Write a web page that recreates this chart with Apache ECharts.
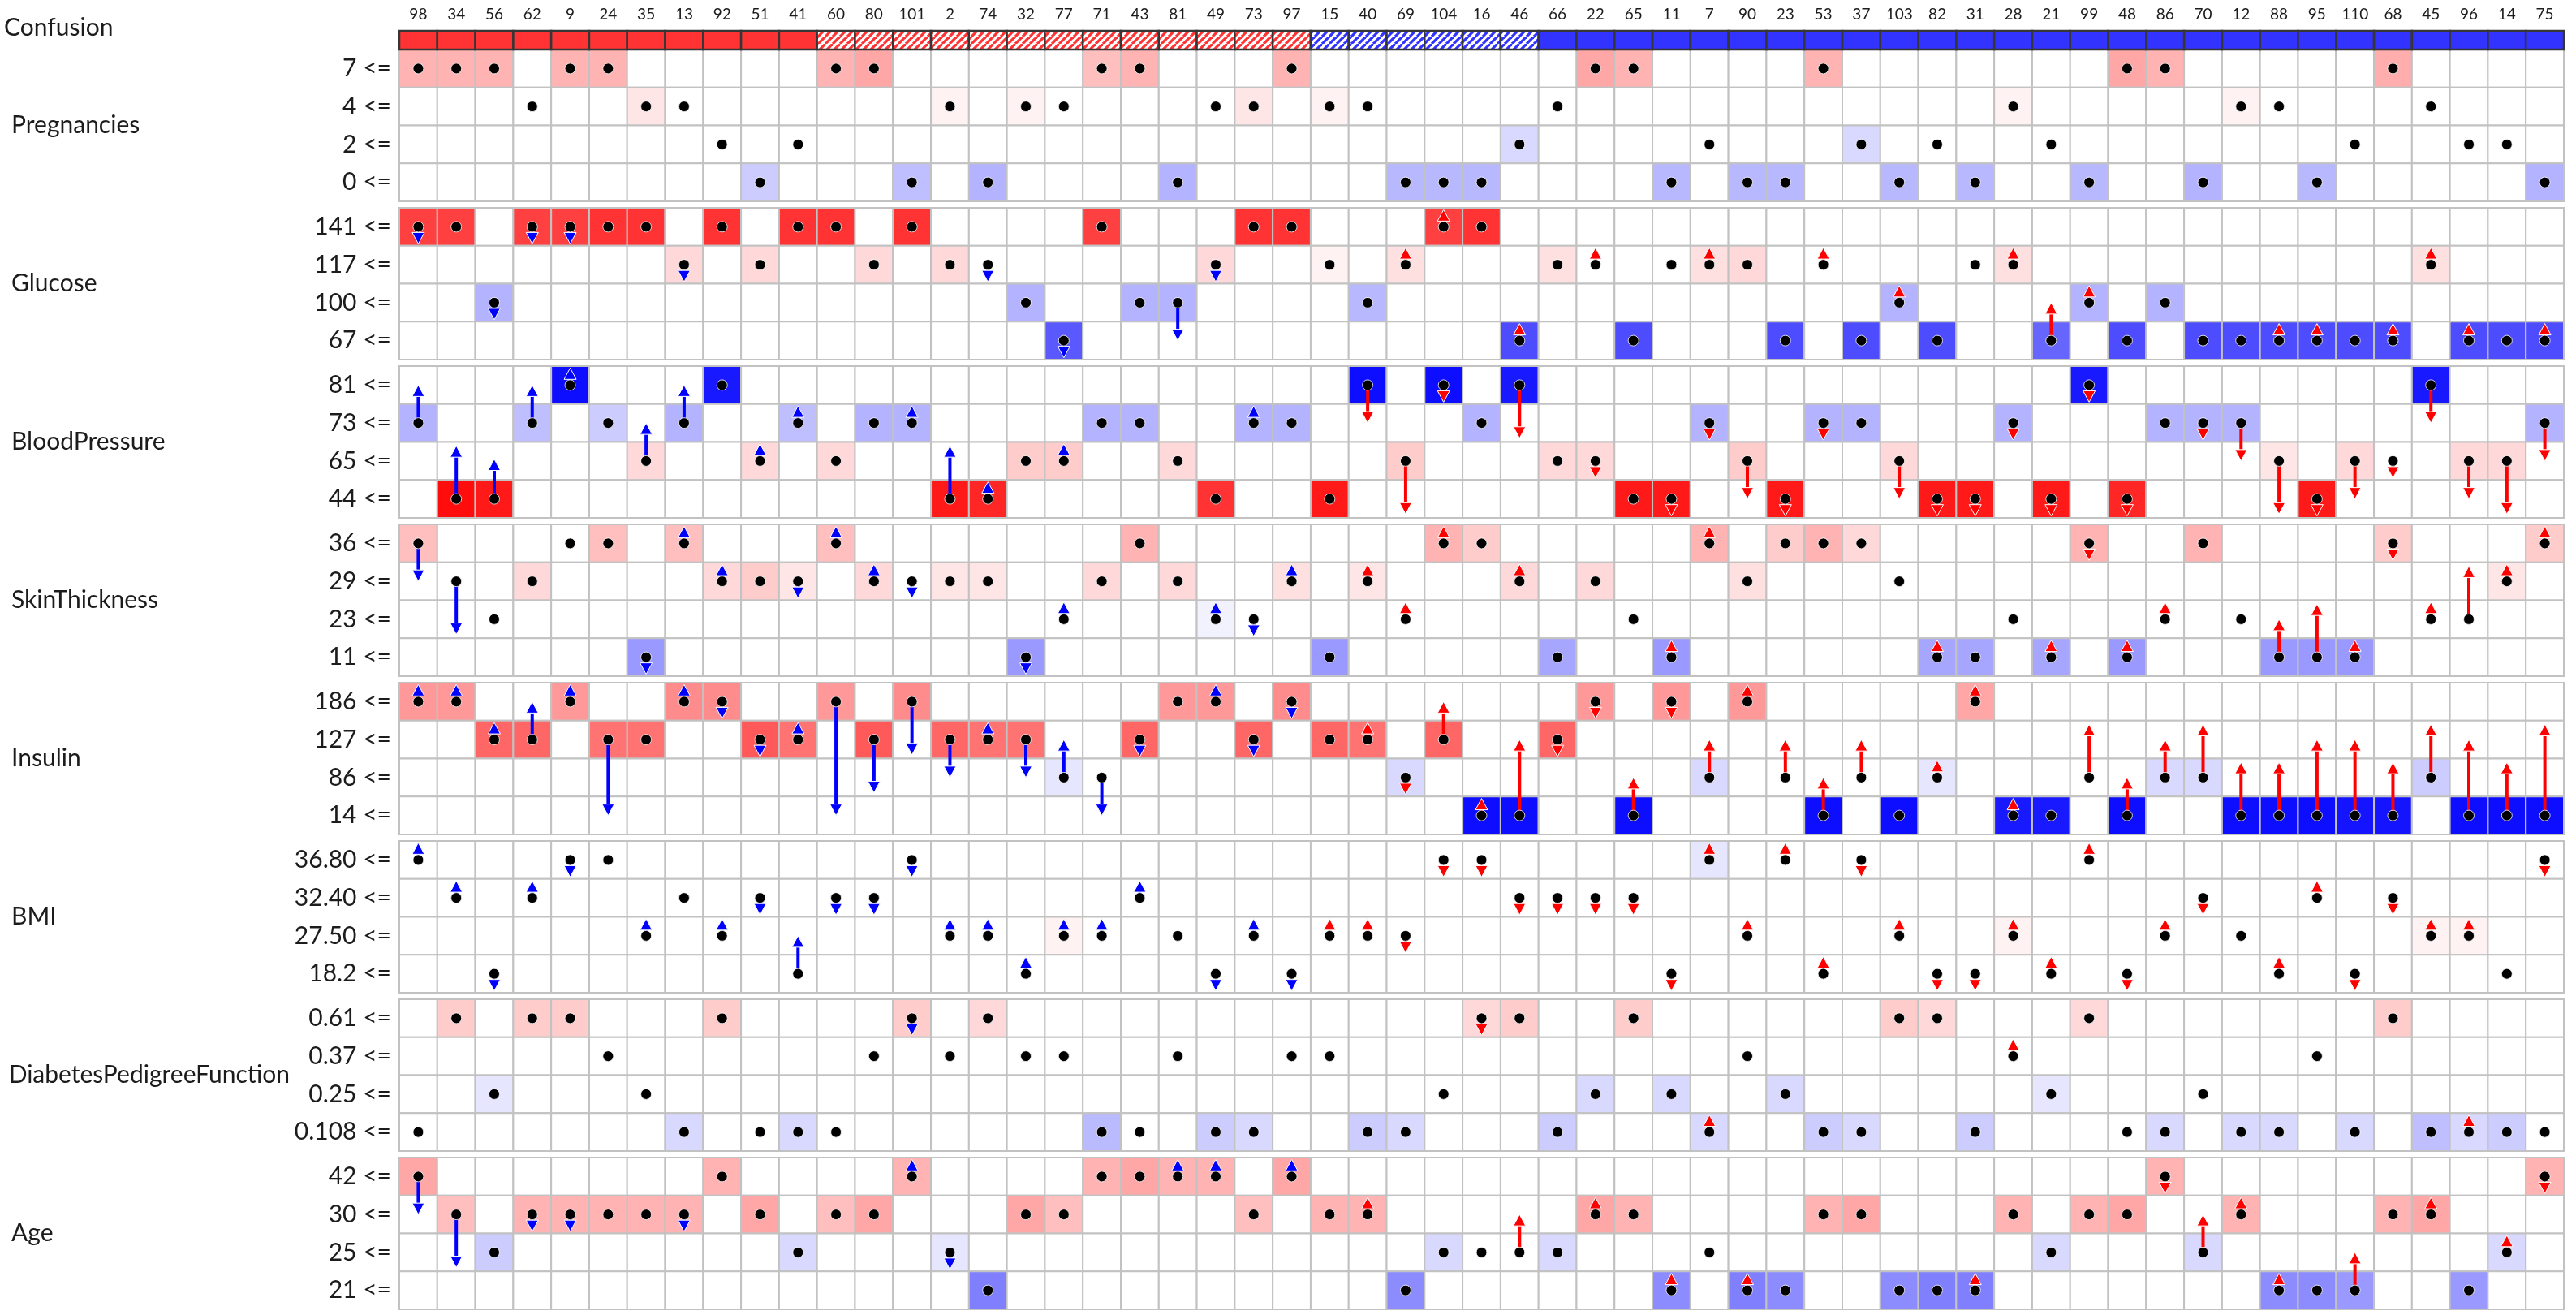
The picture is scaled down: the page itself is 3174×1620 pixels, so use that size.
<!DOCTYPE html>
<html><head><meta charset="utf-8">
<script src="https://cdn.jsdelivr.net/npm/echarts@6/dist/echarts.min.js"></script>
<style>html,body{margin:0;padding:0;background:#fff}#chart{width:3174px;height:1620px}</style>
</head><body><div id="chart"></div>
<script>
// ---------- DATA ----------
const columns = ['98','34','56','62','9','24','35','13','92','51','41','60','80','101','2','74','32','77','71','43','81','49','73','97','15','40','69','104','16','46','66','22','65','11','7','90','23','53','37','103','82','31','28','21','99','48','86','70','12','88','95','110','68','45','96','14','75'];
// 2 = red, 1 = red hatched, -1 = blue hatched, -2 = blue
const confusion = [2,2,2,2,2,2,2,2,2,2,2, 1,1,1,1,1,1,1,1,1,1,1,1,1, -1,-1,-1,-1,-1,-1, -2,-2,-2,-2,-2,-2,-2,-2,-2,-2,-2,-2,-2,-2,-2,-2,-2,-2,-2,-2,-2,-2,-2,-2,-2,-2,-2];

const pregnanciesLabels = ['7 <=','4 <=','2 <=','0 <='];
const pregnanciesBin = [0,0,0,1,0,0,1,1,2,3, 2,0,0,3,1,3,1,1,0,0, 3,1,1,0,1,1,3,3,3,2, 1,0,0,3,2,3,3,0,2,3, 2,3,1,2,3,0,0,3,1,1, 3,2,0,1,2,2,3];
const pregnanciesShade = [30,30,30,0,30,30,10,0,0,-20, 0,30,35,-25,5,-30,5,0,25,30, -30,0,10,30,5,0,-28,-28,-28,-15, 0,35,30,-28,0,-28,-28,30,-15,-28, 0,-28,5,0,-28,35,30,-30,5,0, -28,0,32,0,0,0,-30];
const pregnanciesShift = [0,0,0,0,0,0,0,0,0,0, 0,0,0,0,0,0,0,0,0,0, 0,0,0,0,0,0,0,0,0,0, 0,0,0,0,0,0,0,0,0,0, 0,0,0,0,0,0,0,0,0,0, 0,0,0,0,0,0,0];

const glucoseLabels = ['141 <=','117 <=','100 <=','67 <='];
const glucoseBin = [0,0,2,0,0,0,0,1,0,1, 0,0,1,0,1,1,2,3,0,2, 2,1,0,0,1,2,1,0,0,3, 1,1,3,1,1,1,3,1,3,2, 3,1,1,3,2,3,2,3,3,3, 3,3,3,1,3,3,3];
const glucoseShade = [75,75,-30,75,75,80,80,15,80,15, 80,80,15,80,15,0,-30,-65,75,-30, -30,15,80,80,5,-28,12,75,80,-70, 12,0,-70,0,12,15,-70,0,-70,-30, -70,0,12,-60,-30,-70,-30,-70,-70,-70, -70,-70,-70,12,-70,-70,-70];
const glucoseShift = [-.45,0,-.45,-.45,-.45,0,0,-.45,0,0, 0,0,0,0,0,-.45,0,-.45,0,0, -1,-.45,0,0,0,0,.45,.45,0,.45, 0,.45,0,0,.45,0,0,.45,0,.45, 0,0,.45,1,.45,0,0,0,0,.45, .45,0,.45,.45,.45,0,.45];

const bloodPressureLabels = ['81 <=','73 <=','65 <=','44 <='];
const bloodPressureBin = [1,3,3,1,0,1,2,1,0,2, 1,2,1,1,3,3,2,2,1,1, 2,3,1,1,3,0,2,0,1,0, 2,2,3,3,1,2,3,1,1,2, 3,3,1,3,0,3,1,1,1,2, 3,2,2,0,2,2,1];
const bloodPressureShade = [-30,95,90,-25,-95,-20,15,-30,-90,15, -25,15,-30,-30,90,85,20,20,-30,-30, 15,80,-30,-30,90,-95,20,-95,-30,-90, 15,15,90,90,-30,20,90,-30,-30,15, 90,90,-30,90,-90,85,-30,-30,-30,10, 90,15,0,-90,15,15,-30];
const bloodPressureShift = [1,1.4,1.05,1,.45,0,1,1,0,.45, .45,0,0,.45,1.4,.45,0,.45,0,0, 0,0,.45,0,0,-1,-1.4,-.45,0,-1.4, 0,-.45,0,-.45,-.45,-1,-.45,-.45,0,-1, -.45,-.45,-.45,-.45,-.45,-.45,0,-.45,-1,-1.4, -.45,-1,-.45,-1,-1,-1.4,-1];

const skinThicknessLabels = ['36 <=','29 <=','23 <=','11 <='];
const skinThicknessBin = [0,1,2,1,0,0,3,0,1,1, 1,0,1,1,1,1,3,2,1,0, 1,2,2,1,3,1,2,0,0,1, 3,1,2,3,0,1,0,0,0,1, 3,3,2,3,0,3,2,0,2,3, 3,3,0,2,2,1,0];
const skinThicknessShade = [25,0,0,15,0,25,-40,25,15,20, 10,25,15,0,10,10,-40,0,15,30, 15,-5,0,12,-40,10,0,30,20,15, -35,15,0,-40,30,12,20,30,15,0, -35,-35,0,-35,30,-40,0,30,0,-40, -40,-40,20,0,0,10,20];
const skinThicknessShift = [-1,-1.4,0,0,0,0,-.45,.45,.45,0, -.45,.45,.45,-.45,0,0,-.45,.45,0,0, 0,.45,-.45,.45,0,.45,.45,.45,0,.45, 0,0,0,.45,.45,0,0,0,0,0, .45,0,0,.45,-.45,.45,.45,0,0,1, 1.4,.45,-.45,.45,1.4,.45,.45];

const insulinLabels = ['186 <=','127 <=','86 <=','14 <='];
const insulinBin = [0,0,1,1,0,1,1,0,0,1, 1,0,1,0,1,1,1,2,2,1, 0,0,1,0,1,1,2,1,3,3, 1,0,3,0,2,0,2,3,2,3, 2,0,3,3,2,3,2,2,3,3, 3,3,3,2,3,3,3];
const insulinShade = [40,40,60,60,40,55,55,45,45,65, 55,40,65,45,60,55,55,-10,0,60, 40,40,60,45,60,55,-15,60,-95,-95, 60,40,-95,40,-15,40,0,-95,0,-95, -10,35,-90,-90,0,-95,-15,-15,-95,-95, -95,-92,-92,-20,-95,-95,-95];
const insulinShift = [.45,.45,.45,1,.45,-2,0,.45,-.45,-.45, .45,-3,-1.4,-1.4,-1,.45,-1,1,-1,-.45, 0,.45,-.45,-.45,0,.45,-.45,1,.45,2, -.45,-.45,1,-.45,1,.45,1,1,1,0, .45,.45,.45,0,1.4,1,1,1.4,1.4,1.4, 2,2,1.4,1.4,2,1.4,2.4];

const bmiLabels = ['36.80 <=','32.40 <=','27.50 <=','18.2 <='];
const bmiBin = [0,1,3,1,0,0,2,1,2,1, 3,1,1,0,2,2,3,2,2,1, 2,3,2,3,2,2,2,0,0,1, 1,1,1,3,0,2,0,3,0,2, 3,3,2,3,0,3,2,1,2,3, 1,3,1,2,2,3,0];
const bmiShade = [0,0,0,0,0,0,0,0,0,0, 0,0,0,0,0,0,0,5,0,0, 0,0,0,0,0,0,0,0,0,0, 0,0,0,0,-10,0,0,0,0,0, 0,0,5,0,0,0,0,0,0,0, 0,0,0,5,5,0,0];
const bmiShift = [.45,.45,-.45,.45,-.45,0,.45,0,.45,-.45, 1,-.45,-.45,-.45,.45,.45,.45,.45,.45,.45, 0,-.45,.45,-.45,.45,.45,-.45,-.45,-.45,-.45, -.45,-.45,-.45,-.45,.45,.45,.45,.45,-.45,.45, -.45,-.45,.45,.45,.45,-.45,.45,-.45,0,.45, .45,-.45,-.45,.45,.45,0,-.45];

const dpfLabels = ['0.61 <=','0.37 <=','0.25 <=','0.108 <='];
const dpfBin = [3,0,2,0,0,1,2,3,0,3, 3,3,1,0,1,0,1,1,3,3, 1,3,3,1,1,3,3,2,0,0, 3,2,0,2,3,1,2,3,3,0, 0,3,1,2,0,3,3,2,3,3, 1,3,0,3,3,3,3];
const dpfShade = [0,20,-10,20,20,0,0,-15,20,0, -15,0,0,20,0,15,0,0,-27,0, 0,-20,-15,0,0,-20,-15,0,15,20, -20,-15,20,-15,-15,0,-15,-20,-15,20, 15,-20,0,-10,15,0,-15,0,-15,-15, 0,-15,20,-25,-15,-20,0];
const dpfShift = [0,0,0,0,0,0,0,0,0,0, 0,0,0,-.45,0,0,0,0,0,0, 0,0,0,0,0,0,0,0,-.45,0, 0,0,0,0,.45,0,0,0,0,0, 0,0,.45,0,0,0,0,0,0,0, 0,0,0,0,.45,0,0];

const ageLabels = ['42 <=','30 <=','25 <=','21 <='];
const ageBin = [0,1,2,1,1,1,1,1,0,1, 2,1,1,0,2,3,1,1,0,0, 0,0,1,0,1,1,3,2,2,2, 2,1,1,3,2,3,3,1,1,3, 3,3,1,2,1,1,0,2,1,3, 3,3,1,1,3,2,0];
const ageShade = [35,25,-20,30,30,30,30,30,30,35, -15,25,35,30,-10,-50,35,25,30,35, 30,30,25,35,30,30,-45,-15,0,0, -15,35,30,-45,0,-50,-45,30,35,-45, -50,-50,30,-15,30,35,30,-15,30,-45, -45,-40,30,35,-40,-15,30];
const ageShift = [-1,-1.4,0,-.45,-.45,0,0,-.45,0,0, 0,0,0,.45,-.45,0,0,0,0,0, .45,.45,0,.45,0,.45,0,0,0,1, 0,.45,0,.45,0,.45,0,0,0,0, 0,.45,0,0,0,0,-.45,1,.45,.45, 0,1,0,.45,0,.45,-.45];

// ---------- BUILD ----------
const features = [
  {name:'Pregnancies', labels:pregnanciesLabels, bin:pregnanciesBin, shade:pregnanciesShade, shift:pregnanciesShift},
  {name:'Glucose', labels:glucoseLabels, bin:glucoseBin, shade:glucoseShade, shift:glucoseShift},
  {name:'BloodPressure', labels:bloodPressureLabels, bin:bloodPressureBin, shade:bloodPressureShade, shift:bloodPressureShift},
  {name:'SkinThickness', labels:skinThicknessLabels, bin:skinThicknessBin, shade:skinThicknessShade, shift:skinThicknessShift},
  {name:'Insulin', labels:insulinLabels, bin:insulinBin, shade:insulinShade, shift:insulinShift},
  {name:'BMI', labels:bmiLabels, bin:bmiBin, shade:bmiShade, shift:bmiShift},
  {name:'DiabetesPedigreeFunction', labels:dpfLabels, bin:dpfBin, shade:dpfShade, shift:dpfShift},
  {name:'Age', labels:ageLabels, bin:ageBin, shade:ageShade, shift:ageShift}
];

const FONT = 'Lato, "Noto Sans", sans-serif';
const TEXT = '#1c1c1c';
const LEFT = 492, RIGHT = 15;

function shadeColor(v) {
  v = v / 100;
  if (v > 0) { const g = Math.round(255 * (1 - v)); return 'rgb(255,' + g + ',' + g + ')'; }
  if (v < 0) { const r = Math.round(255 * (1 + v)); return 'rgb(' + r + ',' + r + ',255)'; }
  return '#ffffff';
}
function hatch(color) {
  const s = 9, c = document.createElement('canvas');
  c.width = s; c.height = s;
  const ctx = c.getContext('2d');
  ctx.fillStyle = '#ffffff'; ctx.fillRect(0, 0, s, s);
  ctx.strokeStyle = color; ctx.lineWidth = 3.3;
  for (let k = -1; k <= 1; k++) { ctx.beginPath(); ctx.moveTo(k * s, s); ctx.lineTo(k * s + s, 0); ctx.stroke(); }
  return c;
}
const redHatch = {image: hatch('#ff3333'), repeat: 'repeat'};
const blueHatch = {image: hatch('#3333ff'), repeat: 'repeat'};

const grids = [{left: LEFT, right: RIGHT, top: 38, height: 23, outerBoundsMode: 'none', containLabel: false}];
features.forEach((f, g) => grids.push({left: LEFT, right: RIGHT, top: 61 + 195 * g, height: 187, outerBoundsMode: 'none', containLabel: false}));

const xAxes = grids.map((gr, i) => ({
  type: 'category', gridIndex: i, data: columns, position: 'top', boundaryGap: true,
  show: i === 0,
  axisLine: {show: false}, axisTick: {show: false}, splitLine: {show: false},
  axisLabel: {show: i === 0, interval: 0, fontSize: 19, color: TEXT, fontFamily: FONT, margin: 11}
}));

const yAxes = [{
  type: 'category', gridIndex: 0, data: ['c'], inverse: true,
  axisLine: {show: false}, axisTick: {show: false}, axisLabel: {show: false}, splitLine: {show: false}
}];
features.forEach((f, g) => yAxes.push({
  type: 'category', gridIndex: g + 1, data: f.labels, inverse: true,
  axisLine: {show: false}, axisTick: {show: false}, splitLine: {show: false},
  axisLabel: {fontSize: 30, color: TEXT, fontFamily: FONT, margin: 10},
  name: f.name, nameLocation: 'middle', nameRotate: 0, nameGap: 478,
  nameTextStyle: {align: 'left', verticalAlign: 'middle', fontSize: 30, color: TEXT, fontFamily: FONT}
}));

const series = [];
series.push({
  type: 'custom', xAxisIndex: 0, yAxisIndex: 0, silent: true, clip: false,
  data: columns.map((c, i) => [i, 0, confusion[i]]),
  renderItem: function (params, api) {
    const p = api.coord([api.value(0), 0]);
    const s = api.size([1, 1]);
    const cls = api.value(2);
    const fill = cls === 2 ? '#ff3333' : cls === -2 ? '#3333ff' : cls === 1 ? redHatch : blueHatch;
    return {type: 'rect', shape: {x: p[0] - s[0] / 2, y: p[1] - s[1] / 2, width: s[0], height: s[1]},
      style: {fill: fill, stroke: '#363636', lineWidth: 2.5}};
  }
});

features.forEach((f, g) => {
  const gi = g + 1;
  const cells = [];
  for (let c = 0; c < columns.length; c++) for (let b = 0; b < 4; b++) cells.push([c, b, b === f.bin[c] ? f.shade[c] : 0]);
  series.push({
    type: 'custom', xAxisIndex: gi, yAxisIndex: gi, silent: true, clip: false, z: 1,
    data: cells,
    renderItem: function (params, api) {
      const p = api.coord([api.value(0), api.value(1)]);
      const s = api.size([1, 1]);
      return {type: 'rect', shape: {x: p[0] - s[0] / 2, y: p[1] - s[1] / 2, width: s[0], height: s[1]},
        style: {fill: shadeColor(api.value(2)), stroke: '#c2c2c2', lineWidth: 2}};
    }
  });
  const arrows = [];
  for (let c = 0; c < columns.length; c++) if (f.shift[c] !== 0) arrows.push([c, f.bin[c], f.shift[c]]);
  series.push({
    type: 'custom', xAxisIndex: gi, yAxisIndex: gi, silent: true, clip: false, z: 3,
    data: arrows,
    renderItem: function (params, api) {
      const c = api.value(0), b = api.value(1), sh = api.value(2);
      const p = api.coord([c, b]);
      const h = api.size([1, 1])[1];
      const color = confusion[c] > 0 ? '#0000ff' : '#ff0000';
      const dir = sh > 0 ? -1 : 1;
      const tipY = p[1] - sh * h;
      const L = 14, W = 7.5, SW = 4;
      const baseY = tipY - dir * L;
      const children = [];
      if ((baseY - p[1]) * dir > 0) {
        children.push({type: 'rect', shape: {x: p[0] - SW / 2, y: Math.min(p[1], baseY), width: SW, height: Math.abs(baseY - p[1])}, style: {fill: color}});
      }
      children.push({type: 'polygon', shape: {points: [[p[0] - W, baseY], [p[0] + W, baseY], [p[0], tipY]]},
        style: {fill: color, stroke: '#ffffff', lineWidth: 1}});
      return {type: 'group', children: children};
    }
  });
  series.push({
    type: 'scatter', xAxisIndex: gi, yAxisIndex: gi, silent: true, z: 5,
    symbol: 'circle', symbolSize: 13,
    itemStyle: {color: '#000000', borderColor: '#ffffff', borderWidth: 0.8, opacity: 1},
    data: columns.map((c, i) => [i, f.bin[i]])
  });
});

const chart = echarts.init(document.getElementById('chart'), null, {renderer: 'canvas', width: 3174, height: 1620});
chart.setOption({
  animation: false,
  backgroundColor: '#ffffff',
  grid: grids, xAxis: xAxes, yAxis: yAxes, series: series,
  graphic: [{
    type: 'text', left: 5, top: 19, silent: true,
    style: {text: 'Confusion', fontSize: 30, fontFamily: FONT, fill: TEXT}
  }]
});
</script>
</body></html>
